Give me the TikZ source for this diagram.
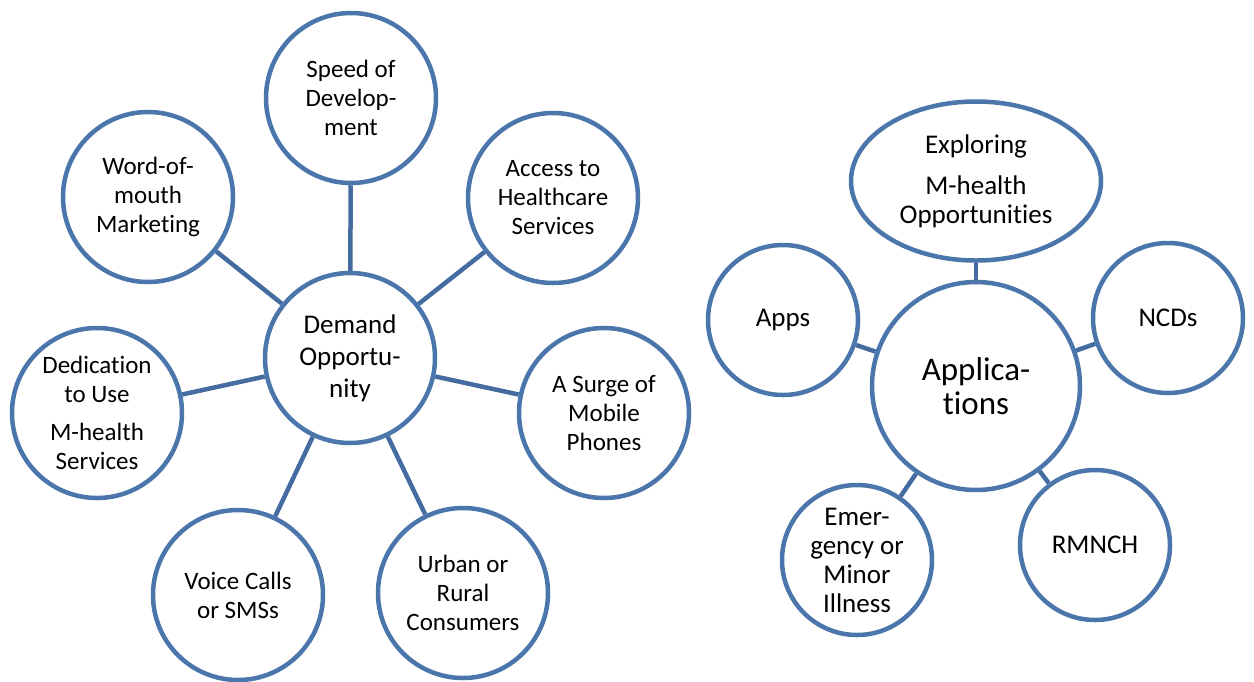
\documentclass[tikz,border=0pt]{standalone}
\usepackage{fontspec}
\setmainfont[Ligatures=NoCommon]{Carlito}
\usetikzlibrary{shapes.geometric}
\definecolor{ring}{RGB}{74,118,172}
\definecolor{link}{RGB}{68,108,160}
\tikzset{
  bub/.style={circle,draw=ring,line width=4.5pt,fill=white,inner sep=0pt,align=center,minimum size=#1},
  lt/.style={font=\fontsize{25}{29}\selectfont},
  ct/.style={font=\fontsize{27}{32}\selectfont},
  rt/.style={font=\fontsize{27}{29}\selectfont},
  con/.style={draw=link,line width=4.5pt}
}
\begin{document}
\begin{tikzpicture}[x=1pt,y=-1pt]
\useasboundingbox (0,0) rectangle (1254,681);
% left cluster
\node[bub=170,ct] (dem) at (350,358) {Demand\\Opportu-\\nity};
\node[bub=170,lt] (spd) at (351,98) {Speed of\\Develop-\\ment};
\node[bub=170,lt] (wom) at (148,197) {Word-of-\\mouth\\Marketing};
\node[bub=170,lt] (acc) at (553,198) {Access to\\Healthcare\\Services};
\node[bub=170,lt] (ded) at (97,413) {Dedication\\to Use\\[9pt]M-health\\Services};
\node[bub=170,lt] (sur) at (604,413) {A Surge of\\Mobile\\Phones};
\node[bub=170,lt] (voi) at (238,595) {Voice Calls\\or SMSs};
\node[bub=170,lt] (urb) at (463,593) {Urban or\\Rural\\Consumers};
\foreach \n in {spd,wom,acc,ded,sur,voi,urb} \draw[con] (dem) -- (\n);
% right cluster
\node[bub=208,font=\fontsize{33}{34}\selectfont] (app) at (976,386) {Applica-\\tions};
\node[ellipse,draw=ring,line width=4.5pt,fill=white,inner sep=0pt,minimum width=250,minimum height=159,align=center,rt] (exp) at (976,181) {Exploring\\[12pt]M-health\\Opportunities};
\node[bub=150,rt] (aps) at (783,320) {Apps};
\node[bub=150,rt] (ncd) at (1168,318) {NCDs};
\node[bub=150,rt] (emg) at (857,560) {Emer-\\gency or\\Minor\\Illness};
\node[bub=150,rt] (rmn) at (1095,545) {RMNCH};
\foreach \n in {exp,aps,ncd,emg,rmn} \draw[con] (app) -- (\n);
\end{tikzpicture}
\end{document}
